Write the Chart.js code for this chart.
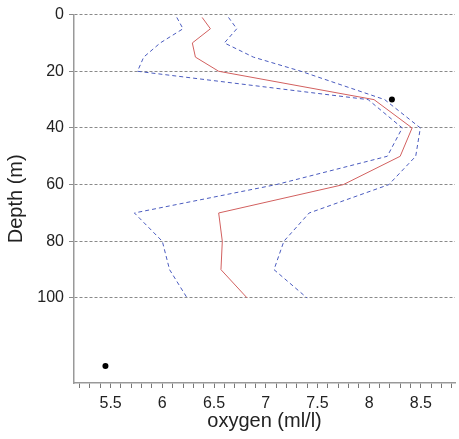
<!DOCTYPE html>
<html>
<head>
<meta charset="utf-8">
<script src="https://cdn.jsdelivr.net/npm/chart.js@4.4.1/dist/chart.umd.min.js"></script>
<style>
html,body{margin:0;padding:0;background:#fff;}
#wrap{width:459px;height:439px;position:relative;}
</style>
</head>
<body>
<div id="wrap"><canvas id="c" width="459" height="439"></canvas></div>
<script>
// Data
const depths = [1, 5, 10, 15, 20, 30, 40, 50, 60, 70, 80, 90, 100];
const meanOxygen = [6.385, 6.465, 6.29, 6.32, 6.545, 8.047, 8.415, 8.30, 7.75, 6.545, 6.58, 6.567, 6.82];
const lowerOxygen = [6.14, 6.20, 5.98, 5.82, 5.76, 7.99, 8.32, 8.175, 7.10, 5.73, 6.00, 6.07, 6.24];
const upperOxygen = [6.64, 6.72, 6.60, 6.88, 7.34, 8.15, 8.495, 8.45, 8.19, 7.42, 7.175, 7.08, 7.40];
const pointOxygen = [8.22, 5.45];
const pointDepth = [30, 124];
const yTickValues = [0, 20, 40, 60, 80, 100];
const xTickStart = 5.2, xTickEnd = 8.8, xTickStep = 0.1;

const toXY = (xs, ys) => xs.map((x, i) => ({x: x, y: ys[i]}));
const font = "'Liberation Sans', Arial, sans-serif";

const xTicks = [];
for (let k = Math.round(xTickStart * 10); k <= Math.round(xTickEnd * 10); k++) xTicks.push({value: k / 10});

new Chart(document.getElementById('c'), {
  type: 'scatter',
  data: {
    datasets: [
      {data: toXY(lowerOxygen, depths), showLine: true, borderColor: '#4a5bbf', borderWidth: 1, borderDash: [4, 3], pointRadius: 0, fill: false},
      {data: toXY(upperOxygen, depths), showLine: true, borderColor: '#4a5bbf', borderWidth: 1, borderDash: [4, 3], pointRadius: 0, fill: false},
      {data: toXY(meanOxygen, depths), showLine: true, borderColor: '#d2605f', borderWidth: 1, pointRadius: 0, fill: false},
      {data: toXY(pointOxygen, pointDepth), showLine: false, pointRadius: 3, pointBackgroundColor: '#000', pointBorderColor: '#000', borderWidth: 0}
    ]
  },
  options: {
    responsive: false,
    animation: false,
    devicePixelRatio: 1,
    layout: {padding: {top: 14, right: 0, left: 0, bottom: 0}},
    plugins: {legend: {display: false}, tooltip: {enabled: false}},
    scales: {
      x: {
        type: 'linear',
        min: 5.146, max: 8.83,
        afterBuildTicks: s => { s.ticks = xTicks.map(t => ({value: t.value})); },
        afterFit: s => { s.height = 56; },
        grid: {display: true, drawOnChartArea: false, drawTicks: true, tickLength: 5, color: '#777', lineWidth: 1},
        border: {display: true, color: '#999', width: 1.5},
        ticks: {
          autoSkip: false, maxRotation: 0, padding: 6, color: '#222',
          font: {family: font, size: 16},
          callback: v => (Math.abs(v * 2 - Math.round(v * 2)) < 1e-6 ? String(Math.round(v * 10) / 10) : '')
        },
        title: {display: true, text: 'oxygen (ml/l)', color: '#222', font: {family: font, size: 20}, padding: {top: 0, bottom: 6}}
      },
      y: {
        type: 'linear',
        reverse: true,
        min: 0, max: 130,
        afterBuildTicks: s => { s.ticks = yTickValues.map(v => ({value: v})); },
        afterFit: s => { s.width = 74; },
        grid: {display: true, drawOnChartArea: true, drawTicks: true, tickLength: 5, color: '#8a8a8a', lineWidth: 1},
        border: {display: true, color: '#999', width: 1.5, dash: [3, 2]},
        ticks: {autoSkip: false, padding: 5, color: '#222', font: {family: font, size: 16}},
        title: {display: true, text: 'Depth (m)', color: '#222', font: {family: font, size: 20}, padding: {top: 4, bottom: 0}}
      }
    }
  }
});
</script>
</body>
</html>
